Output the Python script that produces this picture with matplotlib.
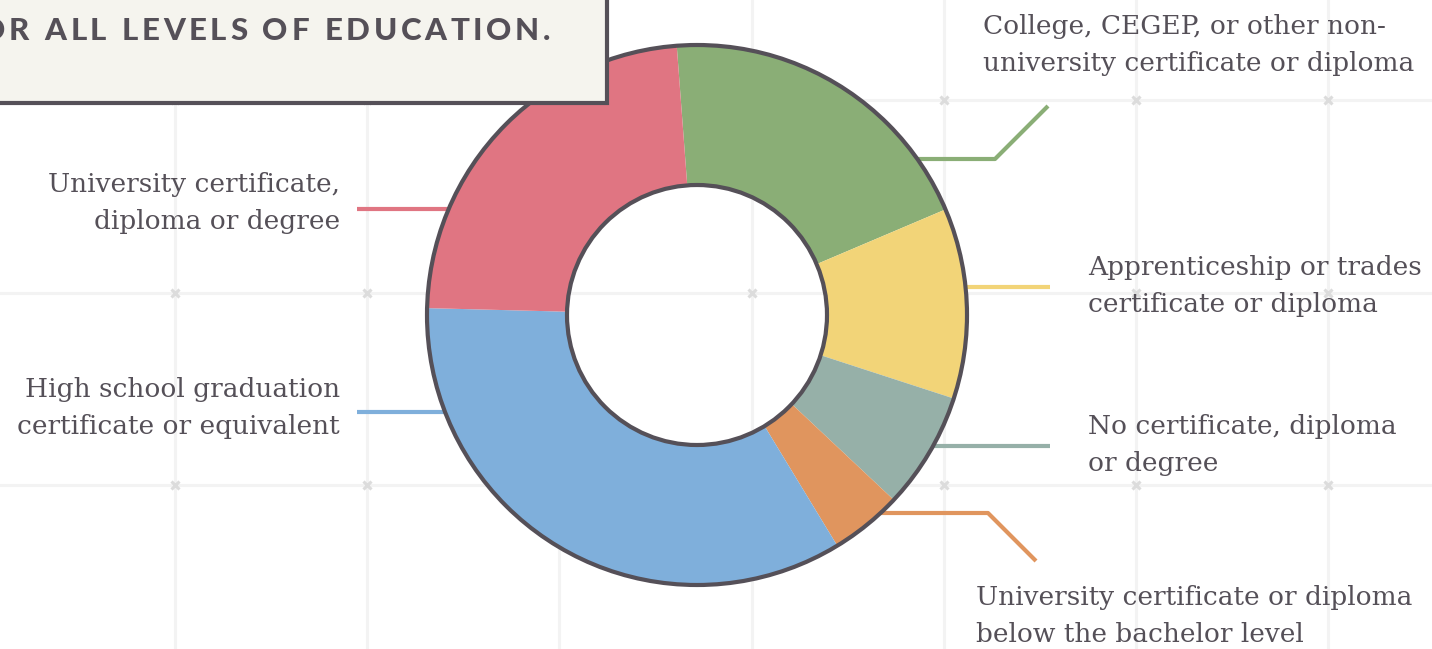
import numpy as np
import matplotlib.pyplot as plt
from matplotlib.patches import Circle, Rectangle

# education level shares (read from the donut)
labels = [
    "College, CEGEP, or other non-\nuniversity certificate or diploma",
    "Apprenticeship or trades\ncertificate or diploma",
    "No certificate, diploma\nor degree",
    "University certificate or diploma\nbelow the bachelor level",
    "High school graduation\ncertificate or equivalent",
    "University certificate,\ndiploma or degree",
]
values = [19.8, 11.4, 7.0, 4.3, 34.1, 23.4]
colors = ["#8aae76", "#f2d478", "#96b0a8", "#e0955e", "#7fafdb", "#e07582"]

title_text = "OR ALL LEVELS OF EDUCATION."

W, H = 1432, 649
dark = "#555058"
grid_c = "#f3f3f3"

fig = plt.figure(figsize=(W / 100, H / 100), dpi=100)
ax = fig.add_axes([0, 0, 1, 1])
ax.set_xlim(0, W)
ax.set_ylim(0, H)


def Y(y):
    # image pixel row -> axes y
    return H - y


# background grid
gx = [175 + 192.2 * k for k in range(7)]
gy = [100, 293, 485]
for x in gx:
    ax.plot([x, x], [0, H], color=grid_c, lw=2.2, zorder=0)
for y in gy:
    ax.plot([0, W], [Y(y), Y(y)], color=grid_c, lw=2.2, zorder=0)
for x in gx:
    for y in gy:
        ax.plot(x, Y(y), marker="x", ms=6, mew=2.2, color="#dcdcdc", zorder=0.5)

# leader lines (start just under the donut rim)
leaders = [
    [(905, 159), (995, 159), (1048, 106)],
    [(955, 287), (1050, 287)],
    [(925, 446), (1050, 446)],
    [(870, 513), (988, 513), (1036, 561)],
    [(455, 412), (357, 412)],
    [(460, 209), (357, 209)],
]
for pts, c in zip(leaders, colors):
    xs = [p[0] for p in pts]
    ys = [Y(p[1]) for p in pts]
    ax.plot(xs, ys, color=c, lw=3, zorder=1, solid_capstyle="butt")

# donut
cx, cy, r_out, r_in = 697, Y(315), 270, 130
wedges, _ = ax.pie(values, colors=colors, startangle=94.3, counterclock=False,
                   radius=r_out, center=(cx, cy),
                   wedgeprops=dict(width=r_out - r_in, linewidth=0))
for w in wedges:
    w.set_zorder(2)
ax.add_patch(Circle((cx, cy), r_out, fill=False, ec=dark, lw=3, zorder=3))
ax.add_patch(Circle((cx, cy), r_in, fill=False, ec=dark, lw=3, zorder=3))

# labels
lab_pos = [
    (983, 45, "left"),
    (1088, 286, "left"),
    (1088, 445, "left"),
    (976, 616, "left"),
    (340, 408, "right"),
    (340, 203, "right"),
]
for txt, (x, y, ha) in zip(labels, lab_pos):
    ax.text(x, Y(y), txt, ha=ha, va="center", fontsize=19,
            family="DejaVu Serif", color=dark, linespacing=1.62, zorder=4)

# title box
ax.add_patch(Rectangle((-10, Y(103)), 617, 120, fc="#f5f4ee", ec=dark, lw=3, zorder=5))

# title with letter spacing, laid out right to left
ax.set_xlim(0, W)
ax.set_ylim(0, H)
renderer = fig.canvas.get_renderer()
x = 550
track = 3.6
for ch in reversed(title_text):
    if ch == " ":
        x -= 8 + track
        continue
    t = ax.text(x, Y(31), ch, ha="right", va="center", fontsize=22.5,
                family="Lato", fontweight="black", color=dark, zorder=6)
    x -= t.get_window_extent(renderer).width + track

ax.set_xlim(0, W)
ax.set_ylim(0, H)
ax.set_aspect("auto")
ax.axis("off")

fig.savefig("out.png", dpi=100)
